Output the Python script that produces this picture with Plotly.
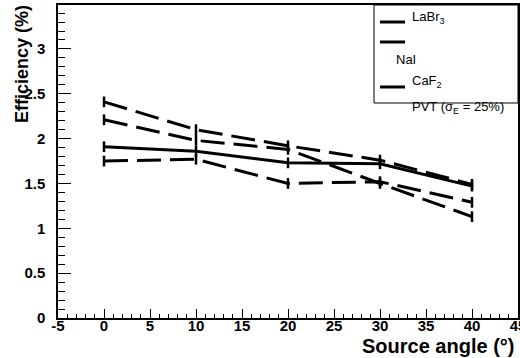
import plotly.graph_objects as go

angles = [0, 10, 20, 30, 40]
labr3 = [1.91, 1.86, 1.73, 1.72, 1.47]
nai = [2.41, 2.10, 1.92, 1.76, 1.49]
caf2 = [2.21, 1.98, 1.88, 1.50, 1.13]
pvt = [1.75, 1.77, 1.50, 1.52, 1.29]
err = [0.06, 0.06, 0.06, 0.06, 0.06]

x_ticks = [-5, 0, 5, 10, 15, 20, 25, 30, 35, 40, 45]
x_tick_labels = ["-5", "0", "5", "10", "15", "20", "25", "30", "35", "40", "45"]
y_ticks = [0, 0.5, 1, 1.5, 2, 2.5, 3]
y_tick_labels = ["0", "0.5", "1", "1.5", "2", "2.5", "3"]

series = [
    ("LaBr3", labr3, "solid"),
    ("NaI", nai, "24px,9px"),
    ("CaF2", caf2, "24px,9px"),
    ("PVT", pvt, "24px,9px"),
]

W, H = 520, 358
L, R, T, B = 58, 2, 5, 40
pw, ph = W - L - R, H - T - B


def px(x):
    return (x - L) / pw


def py(y):
    return (H - B - y) / ph


fig = go.Figure()
for name, vals, dash in series:
    fig.add_trace(go.Scatter(
        x=angles, y=vals, name=name, mode="lines",
        line=dict(color="black", width=3, dash=dash),
        error_y=dict(type="data", array=err, visible=True, width=0,
                     thickness=2.5, color="black"),
        showlegend=False,
    ))

font_b = dict(family="Liberation Sans, Arial, sans-serif", color="black")
tick_font = dict(size=15, family="Liberation Sans, Arial, sans-serif",
                 color="black", weight="bold")

fig.update_layout(
    width=W, height=H,
    margin=dict(l=L, r=R, t=T, b=B, autoexpand=False),
    paper_bgcolor="white", plot_bgcolor="white",
    xaxis=dict(
        range=[-5, 45], tickmode="array", tickvals=x_ticks,
        ticktext=x_tick_labels, ticks="inside", ticklen=9,
        tickwidth=1, tickcolor="black", showgrid=False, zeroline=False,
        showline=True, linecolor="black", linewidth=1.5, mirror=True,
        tickfont=tick_font, ticklabeloverflow="allow", automargin=False,
        minor=dict(dtick=1, tick0=0, ticks="inside", ticklen=4,
                   tickcolor="black", showgrid=False),
        ticklabelstandoff=-7,
    ),
    yaxis=dict(
        range=[0, 3.49], tickmode="array", tickvals=y_ticks,
        ticktext=y_tick_labels, ticks="inside", ticklen=13,
        tickwidth=1, tickcolor="black", showgrid=False, zeroline=False,
        showline=True, linecolor="black", linewidth=1.5, mirror=True,
        tickfont=tick_font, ticklabeloverflow="allow", automargin=False,
        minor=dict(dtick=0.1, tick0=0, ticks="inside", ticklen=7,
                   tickcolor="black", showgrid=False),
        ticklabelstandoff=8,
    ),
)

annotations = [
    dict(text="Source angle (°)", x=px(516), y=py(346), xref="paper",
         yref="paper", xanchor="right", yanchor="middle", showarrow=False,
         font=dict(size=20, weight="bold", **font_b)),
    dict(text="Efficiency (%)", x=px(22), y=py(3), xref="paper",
         yref="paper", xanchor="center", yanchor="top", textangle=-90,
         showarrow=False, font=dict(size=18, weight="bold", **font_b)),
]

leg_font = dict(size=13, family="Liberation Sans, Arial, sans-serif",
                color="black")
legend_texts = [
    ("LaBr<sub>3</sub>", 410, 17),
    ("NaI", 394, 60),
    ("CaF<sub>2</sub>", 410, 81),
    ("PVT (σ<sub>E</sub> = 25%)", 410, 107),
]
for txt, x, y in legend_texts:
    annotations.append(dict(text=txt, x=px(x), y=py(y), xref="paper",
                            yref="paper", xanchor="left", yanchor="middle",
                            showarrow=False, font=leg_font))

shapes = [
    dict(type="rect", xref="paper", yref="paper", x0=px(374), x1=px(518),
         y0=py(103), y1=py(5), line=dict(color="black", width=1),
         fillcolor="rgba(0,0,0,0)"),
]
for yy in [22, 42, 87]:
    shapes.append(dict(type="line", xref="paper", yref="paper", x0=px(380),
                       x1=px(405), y0=py(yy), y1=py(yy),
                       line=dict(color="black", width=3)))

fig.update_layout(annotations=annotations, shapes=shapes)
fig.write_html("out.html")
